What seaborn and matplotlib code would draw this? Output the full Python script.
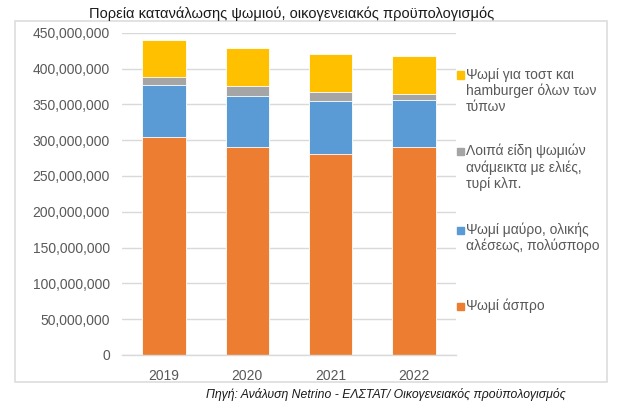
import matplotlib
matplotlib.use("Agg")
import matplotlib.pyplot as plt
import matplotlib.patches as mpatches
from matplotlib.ticker import FuncFormatter, MultipleLocator
import numpy as np
import seaborn as sns

# consumption (household budget)
years = ["2019", "2020", "2021", "2022"]
white_bread = [304.0e6, 290.0e6, 281.0e6, 290.5e6]
brown_bread = [73.5e6, 72.0e6, 74.0e6, 66.0e6]
other_bread = [11.0e6, 13.5e6, 12.6e6, 8.4e6]
toast_bread = [51.5e6, 53.5e6, 52.6e6, 53.0e6]

series_labels = [
    "Ψωμί για τοστ και\nhamburger όλων των\nτύπων",
    "Λοιπά είδη ψωμιών\nανάμεικτα με ελιές,\nτυρί κλπ.",
    "Ψωμί μαύρο, ολικής\nαλέσεως, πολύσπορο",
    "Ψωμί άσπρο",
]
colors = ["#FFC000", "#A5A5A5", "#5B9BD5", "#ED7D31"]

title = "Πορεία κατανάλωσης ψωμιού, οικογενειακός προϋπολογισμός"
source = "Πηγή: Ανάλυση Netrino - ΕΛΣΤΑΤ/ Οικογενειακός προϋπολογισμός"

sns.set_theme(style="white")
plt.rcParams["font.family"] = ["Liberation Sans", "DejaVu Sans"]

W, H = 617, 418
fig = plt.figure(figsize=(W / 100, H / 100), dpi=100)
ax = fig.add_axes([122.3 / W, 1 - 355 / H, 333.4 / W, 322.3 / H])

# stacked bars: draw cumulative totals, biggest first
layers = [toast_bread, other_bread, brown_bread, white_bread]
stack = np.array(layers[::-1]).cumsum(axis=0)[::-1]
for cum, c in zip(stack, colors):
    sns.barplot(x=years, y=cum, color=c, saturation=1, width=0.52,
                edgecolor="white", linewidth=0.6, ax=ax)

ax.set_ylim(0, 450e6)
ax.yaxis.set_major_locator(MultipleLocator(50e6))
ax.yaxis.set_major_formatter(FuncFormatter(lambda v, p: f"{v:,.0f}"))
ax.yaxis.grid(True, color="#D9D9D9", lw=1)
ax.set_axisbelow(True)
for s in ["top", "right", "left"]:
    ax.spines[s].set_visible(False)
ax.spines["bottom"].set_color("#D9D9D9")
ax.spines["bottom"].set_linewidth(1)
ax.tick_params(axis="y", length=0, pad=9, labelsize=10, labelcolor="#595959")
ax.tick_params(axis="x", length=0, pad=10, labelsize=10, labelcolor="#595959")
ax.set_xlabel("")
ax.set_ylabel("")

# legend, laid out like the original
leg_y = [75, 151.5, 230, 306]
for lab, c, y in zip(series_labels, colors, leg_y):
    fig.add_artist(mpatches.Rectangle((456.5 / W, 1 - (y + 3.5) / H), 7 / W, 7 / H,
                                      color=c, transform=fig.transFigure))
    fig.text(466 / W, 1 - (y - 7.5) / H, lab, ha="left", va="top", fontsize=10,
             color="#595959", linespacing=1.17)

# outer frame
fig.add_artist(mpatches.Rectangle((15 / W, 1 - 382 / H), 592 / W, 361 / H, fill=False,
                                  edgecolor="#DDDDDD", lw=1.2, transform=fig.transFigure))

fig.text(291.5 / W, 1 - 18 / H, title, ha="center", va="baseline", fontsize=10.5,
         color="#1a1a1a")
fig.text(386 / W, 1 - 398 / H, source, ha="center", va="baseline", fontsize=8.8,
         style="italic", color="#1a1a1a")

fig.savefig("out.png", dpi=100)
